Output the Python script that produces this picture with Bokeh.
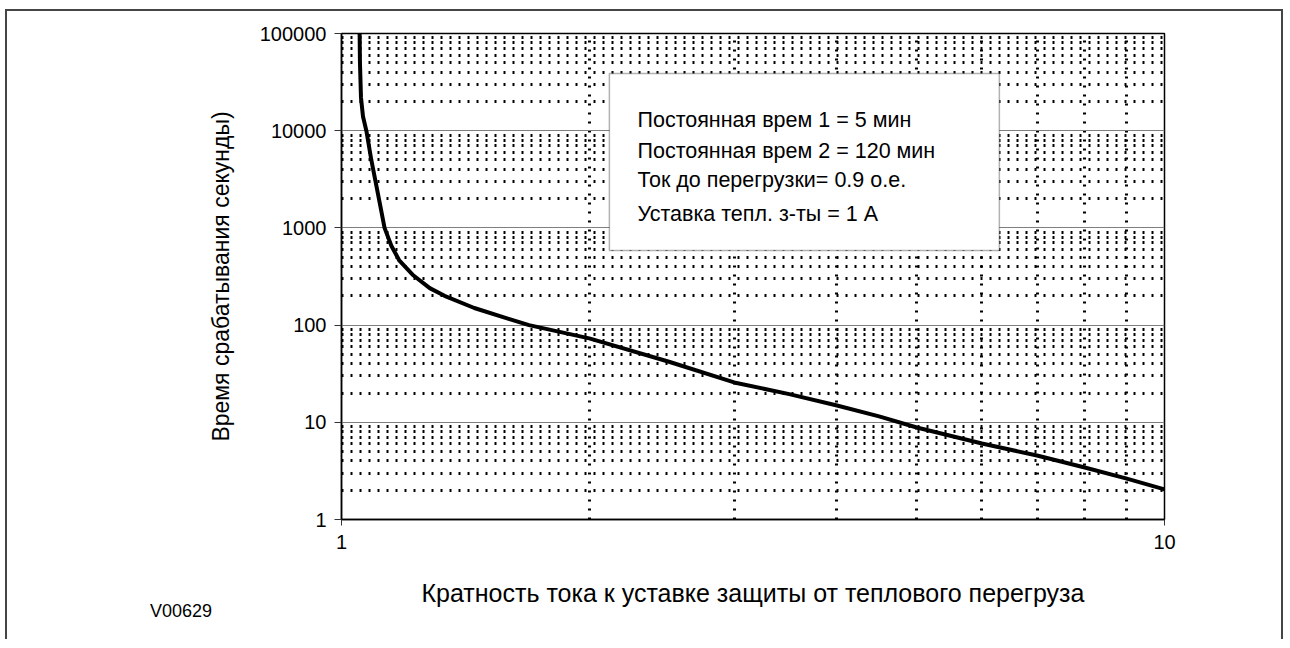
from bokeh.plotting import figure
from bokeh.layouts import column
from bokeh.models import Range1d, FixedTicker, BoxAnnotation, Label, NumeralTickFormatter, Div
from bokeh.embed import file_html
from bokeh.resources import INLINE

# ---- data ----
current_multiple = [1.052, 1.053, 1.056, 1.062, 1.072, 1.087, 1.100, 1.113, 1.128, 1.150,
                    1.176, 1.220, 1.280, 1.334, 1.450, 1.600, 1.690, 2.0, 2.5, 3.0,
                    3.5, 4.0, 4.5, 5.0, 6.0, 7.0, 8.0, 9.0, 10.0]
trip_time_s = [100000, 50000, 22000, 14000, 10000, 5000, 3000, 1800, 1000, 650,
               460, 330, 240, 200, 150, 115, 100, 73, 42, 25.7,
               19.5, 14.9, 11.5, 8.85, 6.05, 4.55, 3.43, 2.63, 2.04]

x_major_ticks = [1, 10]
x_minor_ticks = [2, 3, 4, 5, 6, 7, 8, 9]
y_major_ticks = [1, 10, 100, 1000, 10000, 100000]
y_minor_ticks = [m * d for d in [1, 10, 100, 1000, 10000] for m in range(2, 10)]

info_lines = ["Постоянная врем 1 = 5 мин",
              "Постоянная врем 2 = 120 мин",
              "Ток до перегрузки= 0.9 о.е.",
              "Уставка тепл. з-ты = 1 А"]
info_line_y = [12740, 6110, 3075, 1406]

x_label = "Кратность тока к уставке защиты от теплового перегруза"
y_label = "Время срабатывания секунды)"
code_label = "V00629"

FONT = "Liberation Sans"

p = figure(width=1278, height=630, x_axis_type="log", y_axis_type="log",
           x_range=Range1d(1, 10), y_range=Range1d(1, 100000),
           output_backend="svg", toolbar_location=None,
           min_border_left=334, min_border_right=121,
           min_border_top=22, min_border_bottom=122)
p.styles = {"border-top": "2px solid #454545", "border-left": "2px solid #454545",
            "border-right": "2px solid #454545",
            "margin-left": "5px", "margin-top": "9px"}

p.outline_line_color = "black"
p.outline_line_width = 1.5
p.background_fill_color = "white"
p.border_fill_color = "white"

# axes
p.xaxis.ticker = FixedTicker(ticks=x_major_ticks, minor_ticks=x_minor_ticks)
p.yaxis.ticker = FixedTicker(ticks=y_major_ticks, minor_ticks=y_minor_ticks)
p.xaxis.formatter = NumeralTickFormatter(format="0")
p.yaxis.formatter = NumeralTickFormatter(format="0")
for ax in (p.xaxis, p.yaxis):
    ax.axis_line_color = "black"
    ax.axis_line_width = 1.5
    ax.major_tick_line_color = "#333333"
    ax.major_tick_in = 0
    ax.minor_tick_line_color = None
    ax.major_label_text_font = FONT
    ax.major_label_text_font_size = "20px"
    ax.major_label_text_color = "black"
    ax.axis_label_text_font = FONT
    ax.axis_label_text_font_style = "normal"
    ax.axis_label_text_color = "black"
p.xaxis.axis_label_text_font_size = "25px"
p.yaxis.axis_label_text_font_size = "23px"
p.xaxis.major_tick_out = 6
p.yaxis.major_tick_out = 7
p.xaxis.major_label_standoff = 9
p.yaxis.major_label_standoff = 8
p.xaxis.axis_label = x_label
p.yaxis.axis_label = y_label
p.xaxis.axis_label_standoff = 27
p.yaxis.axis_label_standoff = 23

# grids
p.xgrid.grid_line_color = None
p.xgrid.minor_grid_line_color = "black"
p.xgrid.minor_grid_line_width = 3
p.xgrid.minor_grid_line_dash = "2 7"
p.ygrid.grid_line_color = "#7f7f7f"
p.ygrid.grid_line_width = 1
p.ygrid.minor_grid_line_color = "black"
p.ygrid.minor_grid_line_width = 3
p.ygrid.minor_grid_line_dash = "2 7"

# curve
p.line(current_multiple, trip_time_s, line_color="black", line_width=4,
       line_join="round")

# info box
box = BoxAnnotation(left=2.116, right=6.30, top=38700, bottom=585,
                    fill_color="white", fill_alpha=1.0,
                    line_color="black", line_width=1.5)
p.add_layout(box)
for txt, yy in zip(info_lines, info_line_y):
    p.add_layout(Label(x=2.289, y=yy, text=txt, text_font=FONT,
                       text_font_size="21.5px", text_color="black",
                       text_baseline="middle", text_align="left"))

code_div = Div(text=code_label,
               styles={"position": "absolute", "left": "145px", "top": "596px",
                       "font-family": "Liberation Sans", "font-size": "18px",
                       "color": "black", "line-height": "21px"})

layout = column(p, code_div)

open("out.html", "w").write(file_html(layout, INLINE))
